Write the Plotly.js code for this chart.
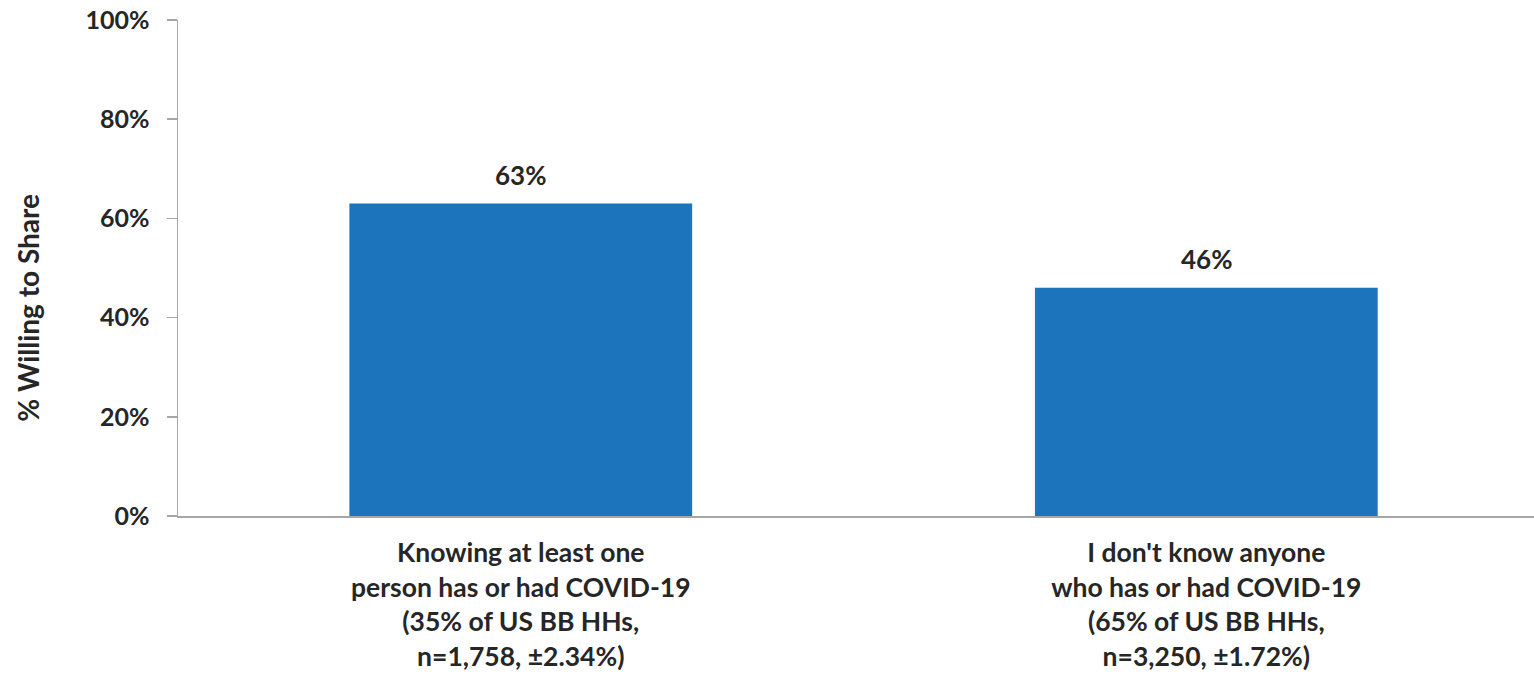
<!DOCTYPE html>
<html>
<head>
<meta charset="utf-8">
<script src="https://cdn.plot.ly/plotly-3.0.1.min.js"></script>
<style>html,body{margin:0;padding:0;background:#fff;}#chart{width:1534px;height:676px;}</style>
</head>
<body>
<div id="chart"></div>
<script>
const categories = [
  "Knowing at least one<br>person has or had COVID-19<br>(35% of US BB HHs,<br>n=1,758, ±2.34%)",
  "I don't know anyone<br>who has or had COVID-19<br>(65% of US BB HHs,<br>n=3,250, ±1.72%)"
];
const values = [63, 46];
const valueLabels = ["63%", "46%"];
const yTickVals = [0, 20, 40, 60, 80, 100];
const yTickText = ["0%", "20%", "40%", "60%", "80%", "100%"];
const yTitle = "% Willing to Share";

const FONT = "Lato, 'Open Sans', sans-serif";
const TXT = "#262626";
const xs = values.map((v, i) => i);
const trace = {
  type: "bar",
  x: xs,
  y: values,
  width: 0.5,
  marker: {color: "#1c75bc"},
  hoverinfo: "none"
};
const annotations = values.map((v, i) => ({
  x: xs[i], y: v, xref: "x", yref: "y",
  text: valueLabels[i], showarrow: false,
  yanchor: "bottom", yshift: 11,
  font: {family: FONT, size: 26, color: TXT, weight: "bold"}
}));
annotations.push({
  xref: "paper", yref: "paper", x: 0, y: 0.42,
  xanchor: "center", yanchor: "middle", xshift: -150,
  textangle: -90, showarrow: false, text: yTitle,
  font: {family: FONT, size: 28, color: TXT, weight: "bold"}
});
const layout = {
  width: 1534, height: 676,
  margin: {l: 178, r: 0, t: 20, b: 160},
  paper_bgcolor: "#ffffff", plot_bgcolor: "#ffffff",
  showlegend: false,
  font: {family: FONT, color: TXT},
  annotations: annotations,
  xaxis: {
    range: [-0.5, 1.478],
    tickvals: xs,
    ticktext: categories,
    tickfont: {family: FONT, size: 26.5, color: TXT, weight: "bold"},
    showline: true, linecolor: "#a6a6a6", linewidth: 1.5,
    ticks: "", showgrid: false, zeroline: false, fixedrange: true,
    ticklabelstandoff: 13
  },
  yaxis: {
    range: [0, 100],
    tickvals: yTickVals,
    ticktext: yTickText,
    tickfont: {family: FONT, size: 25, color: TXT, weight: "bold"},
    showline: true, linecolor: "#a6a6a6", linewidth: 1.5,
    ticks: "outside", ticklen: 10, tickcolor: "#a6a6a6", tickwidth: 1.5,
    showgrid: false, zeroline: false, ticklabelstandoff: 12
  }
};
Plotly.newPlot("chart", [trace], layout, {displayModeBar: false, staticPlot: true});
</script>
</body>
</html>
